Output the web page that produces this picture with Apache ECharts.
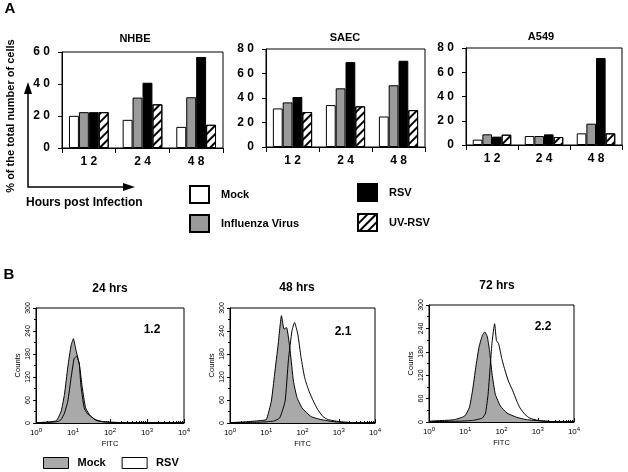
<!DOCTYPE html>
<html><head><meta charset="utf-8">
<script src="https://cdn.jsdelivr.net/npm/echarts@6/dist/echarts.min.js"></script>
<style>html,body{margin:0;padding:0;background:#fff}#c{width:628px;height:472px}</style>
</head><body><div id="c"></div>
<script>
// ---------- Panel A data (% of total number of cells) ----------
const categories = ['12', '24', '48'];
const nhbeMock = [20.1, 17.6, 13.2];
const nhbeFlu  = [22.4, 31.5, 31.7];
const nhbeRsv  = [22.4, 40.8, 56.9];
const nhbeUv   = [22.4, 27.3, 14.5];
const saecMock = [31.5, 34.2, 24.9];
const saecFlu  = [36.4, 47.9, 50.4];
const saecRsv  = [40.8, 69.3, 70.4];
const saecUv   = [28.5, 33.2, 30.1];
const a549Mock = [4.4, 7.4, 9.6];
const a549Flu  = [8.8, 7.4, 17.6];
const a549Rsv  = [6.9, 8.8, 71.7];
const a549Uv   = [8.5, 6.6, 9.6];
const panelTitles = ['NHBE', 'SAEC', 'A549'];
const yMaxA = [60, 80, 80];

// ---------- Panel B data: [log10(FITC), counts] ----------
const decades = [0, 1, 2, 3, 4];
const h24Mock = [[0,1],[0.25,2],[0.55,6],[0.68,31],[0.77,75],[0.86,146],[0.95,203],[1.01,220],[1.08,190],[1.17,154],[1.25,93],[1.34,40],[1.47,18],[1.65,6],[2.0,2],[2.6,1],[4,1]];
const h24Rsv  = [[0,1],[0.4,2],[0.6,4],[0.68,9],[0.77,26],[0.86,57],[0.95,119],[1.03,168],[1.1,174],[1.17,154],[1.21,101],[1.3,40],[1.39,24],[1.47,19],[1.6,9],[1.82,3],[2.3,1],[4,1]];
const h48Mock = [[0,1],[0.43,3],[0.8,6],[1.0,9],[1.14,57],[1.23,127],[1.33,206],[1.42,280],[1.49,245],[1.56,249],[1.66,188],[1.75,109],[1.85,66],[1.99,39],[2.23,17],[2.51,9],[2.89,3],[3.3,1],[4,1]];
const h48Rsv  = [[0,1],[0.8,2],[1.2,5],[1.37,13],[1.52,57],[1.61,162],[1.71,241],[1.78,262],[1.87,232],[1.96,171],[2.06,118],[2.18,83],[2.3,57],[2.42,35],[2.56,17],[2.7,9],[2.99,4],[3.4,1],[4,1]];
const h72Mock = [[0,2],[0.16,3],[0.43,4],[0.7,6],[0.98,15],[1.11,36],[1.2,80],[1.29,140],[1.38,192],[1.47,222],[1.54,231],[1.61,218],[1.67,183],[1.74,123],[1.83,71],[1.97,41],[2.15,23],[2.42,12],[2.69,6],[3.05,3],[3.5,1],[4,1]];
const h72Rsv  = [[0,1],[0.8,2],[1.2,4],[1.47,10],[1.56,23],[1.63,71],[1.7,157],[1.74,205],[1.81,252],[1.86,209],[1.92,201],[2.01,162],[2.1,131],[2.19,105],[2.31,80],[2.42,54],[2.51,36],[2.65,19],[2.78,10],[3.01,4],[3.4,1],[4,1]];
const histTitles = ['24 hrs', '48 hrs', '72 hrs'];
const ratios = ['1.2', '2.1', '2.2'];

const FONT = '"Liberation Sans", Arial, Helvetica, sans-serif';
const spaced = v => String(v).split('').join(' ');
const minorTicks = [];
for (let n = 0; n < 4; n++) for (let k = 2; k <= 9; k++) minorTicks.push(n + Math.log10(k));

const gridsA = [
  {left: 62, top: 52, width: 161, height: 96},
  {left: 266, top: 49, width: 159, height: 98},
  {left: 466, top: 48, width: 156, height: 97}
];
const gridsB = [
  {left: 36, top: 308, width: 148, height: 115},
  {left: 230, top: 308, width: 145, height: 115},
  {left: 429, top: 305, width: 145, height: 117}
];
const grid = gridsA.concat(gridsB).map(g => Object.assign({show: true, borderColor: '#000', borderWidth: 1, backgroundColor: 'transparent'}, g));

const barSets = [
  [nhbeMock, nhbeFlu, nhbeRsv, nhbeUv],
  [saecMock, saecFlu, saecRsv, saecUv],
  [a549Mock, a549Flu, a549Rsv, a549Uv]
];
const histSets = [[h24Mock, h24Rsv], [h48Mock, h48Rsv], [h72Mock, h72Rsv]];

const xAxis = [], yAxis = [], series = [];
const boldLab = {fontFamily: FONT, fontWeight: 'bold', fontSize: 12, color: '#000'};
for (let i = 0; i < 3; i++) {
  xAxis.push({type: 'category', gridIndex: i, data: categories, boundaryGap: true,
    axisLine: {lineStyle: {color: '#000', width: 1}},
    axisTick: {show: true, length: 5, lineStyle: {color: '#000'}},
    axisLabel: Object.assign({margin: 8, formatter: spaced}, boldLab)});
  yAxis.push({type: 'value', gridIndex: i, min: 0, max: yMaxA[i], interval: 20,
    axisLine: {show: true, lineStyle: {color: '#000', width: 1}},
    axisTick: {show: true, length: 4, lineStyle: {color: '#000'}},
    splitLine: {show: false},
    axisLabel: Object.assign({margin: 12, formatter: spaced}, boldLab)});
}
const decal = {symbol: 'rect', symbolSize: 1, color: '#000', dashArrayX: [1, 0], dashArrayY: [1.6, 3.6], rotation: -Math.PI / 4};
const barNames = ['Mock', 'Influenza Virus', 'RSV', 'UV-RSV'];
const barFill = ['#ffffff', '#9a9a9a', '#000000', '#ffffff'];
for (let i = 0; i < 3; i++) {
  for (let s = 0; s < 4; s++) {
    const st = {color: barFill[s], borderColor: '#000', borderWidth: 1};
    if (s === 3) st.decal = decal;
    series.push({type: 'bar', name: barNames[s], xAxisIndex: i, yAxisIndex: i,
      data: barSets[i][s], barGap: '0%', barCategoryGap: '26%', itemStyle: st,
      emphasis: {disabled: true}, animation: false});
  }
}
const smallLab = {fontFamily: FONT, fontSize: 7.5, color: '#000'};
for (let j = 0; j < 3; j++) {
  const g = 3 + j;
  xAxis.push({type: 'value', gridIndex: g, min: 0, max: 4, interval: 1,
    name: 'FITC', nameLocation: 'middle', nameGap: 17, nameTextStyle: smallLab,
    axisLine: {lineStyle: {color: '#000'}},
    axisTick: {show: true, inside: true, length: 4, lineStyle: {color: '#000'}},
    splitLine: {show: false},
    axisLabel: {margin: 4, fontFamily: FONT, fontSize: 8, color: '#000',
      formatter: v => '10{s|' + v + '}',
      rich: {s: {fontFamily: FONT, fontSize: 6, color: '#000', padding: [0, 0, 6, 0]}}}});
  yAxis.push({type: 'value', gridIndex: g, min: 0, max: 300, interval: 60,
    name: 'Counts', nameLocation: 'middle', nameGap: 14, nameRotate: 90, nameTextStyle: smallLab,
    axisLine: {show: true, lineStyle: {color: '#000'}},
    axisTick: {show: true, length: 3, lineStyle: {color: '#000'}},
    minorTick: {show: true, splitNumber: 2, length: 2, lineStyle: {color: '#000'}},
    splitLine: {show: false},
    axisLabel: Object.assign({margin: 4, rotate: 90}, smallLab, {fontSize: 7})});
}
for (let j = 0; j < 3; j++) {
  const g = 3 + j;
  xAxis.push({type: 'value', gridIndex: g, min: 0, max: 4, position: 'bottom',
    axisLine: {show: false}, axisLabel: {show: false}, splitLine: {show: false},
    axisTick: {show: true, inside: true, length: 2, customValues: minorTicks, lineStyle: {color: '#000'}}});
}
for (let j = 0; j < 3; j++) {
  series.push({type: 'line', name: 'Mock', xAxisIndex: 3 + j, yAxisIndex: 3 + j,
    data: histSets[j][0], symbol: 'none', smooth: 0.15,
    lineStyle: {color: '#000', width: 1}, itemStyle: {color: '#a9a9a9'},
    areaStyle: {color: '#a9a9a9', opacity: 1}, emphasis: {disabled: true}, animation: false});
  series.push({type: 'line', name: 'RSV', xAxisIndex: 3 + j, yAxisIndex: 3 + j,
    data: histSets[j][1], symbol: 'none', smooth: 0.15,
    lineStyle: {color: '#000', width: 1}, itemStyle: {color: '#000'},
    emphasis: {disabled: true}, animation: false});
}

const legText = {fontFamily: FONT, fontWeight: 'bold', fontSize: 11, color: '#000', padding: [0, 0, 0, 7]};
const legend = [
  {left: 189, top: 185, padding: 0, orient: 'vertical', itemWidth: 19, itemHeight: 17, itemGap: 10, selectedMode: false,
    textStyle: legText, data: [{name: 'Mock', icon: 'rect'}, {name: 'Influenza Virus', icon: 'rect'}]},
  {left: 357, top: 183, padding: 0, orient: 'vertical', itemWidth: 19, itemHeight: 17, itemGap: 11, selectedMode: false,
    textStyle: legText, data: [{name: 'RSV', icon: 'rect'}, {name: 'UV-RSV', icon: 'rect'}]},
  {left: 43, top: 457, padding: 0, orient: 'horizontal', itemWidth: 25, itemHeight: 11, itemGap: 16, selectedMode: false,
    textStyle: Object.assign({}, legText, {padding: [0, 0, 0, 4]}),
    data: [{name: 'Mock', icon: 'rect', itemStyle: {color: '#a9a9a9', borderColor: '#000', borderWidth: 1}},
           {name: 'RSV', icon: 'rect', itemStyle: {color: '#fff', borderColor: '#000', borderWidth: 1}}]}
];

const txt = (text, x, y, size, opts) => Object.assign({type: 'text', x: x, y: y, silent: true,
  style: {text: text, fill: '#000', font: 'bold ' + size + 'px ' + FONT, align: 'center', verticalAlign: 'middle'}}, opts || {});
const graphic = [
  txt('A', 10, 9, 15),
  txt('B', 9, 275, 15),
  txt('% of the total number of cells', 11, 116, 11, {rotation: Math.PI / 2}),
  {type: 'text', x: 26, y: 203, silent: true, style: {text: 'Hours post Infection', fill: '#000', font: 'bold 12px ' + FONT, align: 'left', verticalAlign: 'middle'}},
  {type: 'polyline', silent: true, shape: {points: [[28, 92], [28, 187], [125, 187]]}, style: {stroke: '#000', lineWidth: 1.5, fill: null}},
  {type: 'polygon', silent: true, shape: {points: [[28, 82], [24, 94], [32, 94]]}, style: {fill: '#000'}},
  {type: 'polygon', silent: true, shape: {points: [[135, 187], [123, 183], [123, 191]]}, style: {fill: '#000'}},
  txt(panelTitles[0], 135, 39, 11),
  txt(panelTitles[1], 345, 38, 11),
  txt(panelTitles[2], 541, 37, 11),
  txt(histTitles[0], 110, 289, 12),
  txt(histTitles[1], 297, 288, 12),
  txt(histTitles[2], 497, 286, 12),
  txt(ratios[0], 152, 330, 12),
  txt(ratios[1], 343, 332, 12),
  txt(ratios[2], 543, 327, 12)
];

const chart = echarts.init(document.getElementById('c'), null, {renderer: 'canvas'});
chart.setOption({backgroundColor: '#fff', animation: false, grid: grid, xAxis: xAxis, yAxis: yAxis,
  series: series, legend: legend, graphic: graphic});
</script></body></html>
